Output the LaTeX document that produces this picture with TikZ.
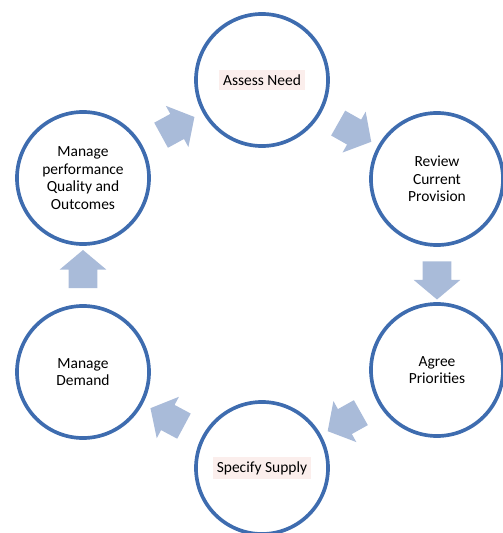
\documentclass[tikz,border=0pt]{standalone}
\usepackage{fontspec}
\setmainfont{Carlito}
\usepackage{tikz}
\usetikzlibrary{shapes, arrows, calc}
\definecolor{ringblue}{RGB}{62,108,175}
\definecolor{flowblue}{RGB}{169,187,217}
\definecolor{bandpink}{RGB}{251,238,236}

\begin{document}
\begin{tikzpicture}[x=0.025cm, y=0.025cm,
		stage/.style={circle, draw=ringblue, line width=2.6pt, fill=white, minimum size=3.3cm, inner sep=0pt, align=center, font=\fontsize{11}{12.5}\selectfont},
		flow/.style={single arrow, fill=flowblue, draw=none, inner sep=0pt, inner ysep=0.35cm, minimum height=0.95cm, single arrow head extend=0.23cm, single arrow tip angle=100}]
		\useasboundingbox (0,0) rectangle (502,533);
		\node at (262,453) [stage] (A) {\colorbox{bandpink}{Assess Need}};
		\node at (437,354) [stage] (R) {Review\\Current\\Provision};
		\node at (437,163) [stage] (P) {Agree\\Priorities};
		\node at (262,65) [stage] (S) {\colorbox{bandpink}{Specify Supply}};
		\node at (83,161) [stage] (D) {Manage\\Demand};
		\node at (83,355) [stage] (M) {Manage\\performance\\Quality and\\Outcomes};
		% block arrows round the cycle
		\node at ($(A)!0.5!(R)$) [flow, rotate=-29.5] (AR) {};
		\node at ($(R)!0.5!(P)$) [flow, rotate=-90] (RP) {};
		\node at ($(P)!0.5!(S)$) [flow, rotate=209.2] (PS) {};
		\node at ($(S)!0.5!(D)$) [flow, rotate=151.8] (SD) {};
		\node at ($(D)!0.5!(M)$) [flow, rotate=90] (DM) {};
		\node at ($(M)!0.5!(A)$) [flow, rotate=28.7] (MA) {};
\end{tikzpicture}
\end{document}
